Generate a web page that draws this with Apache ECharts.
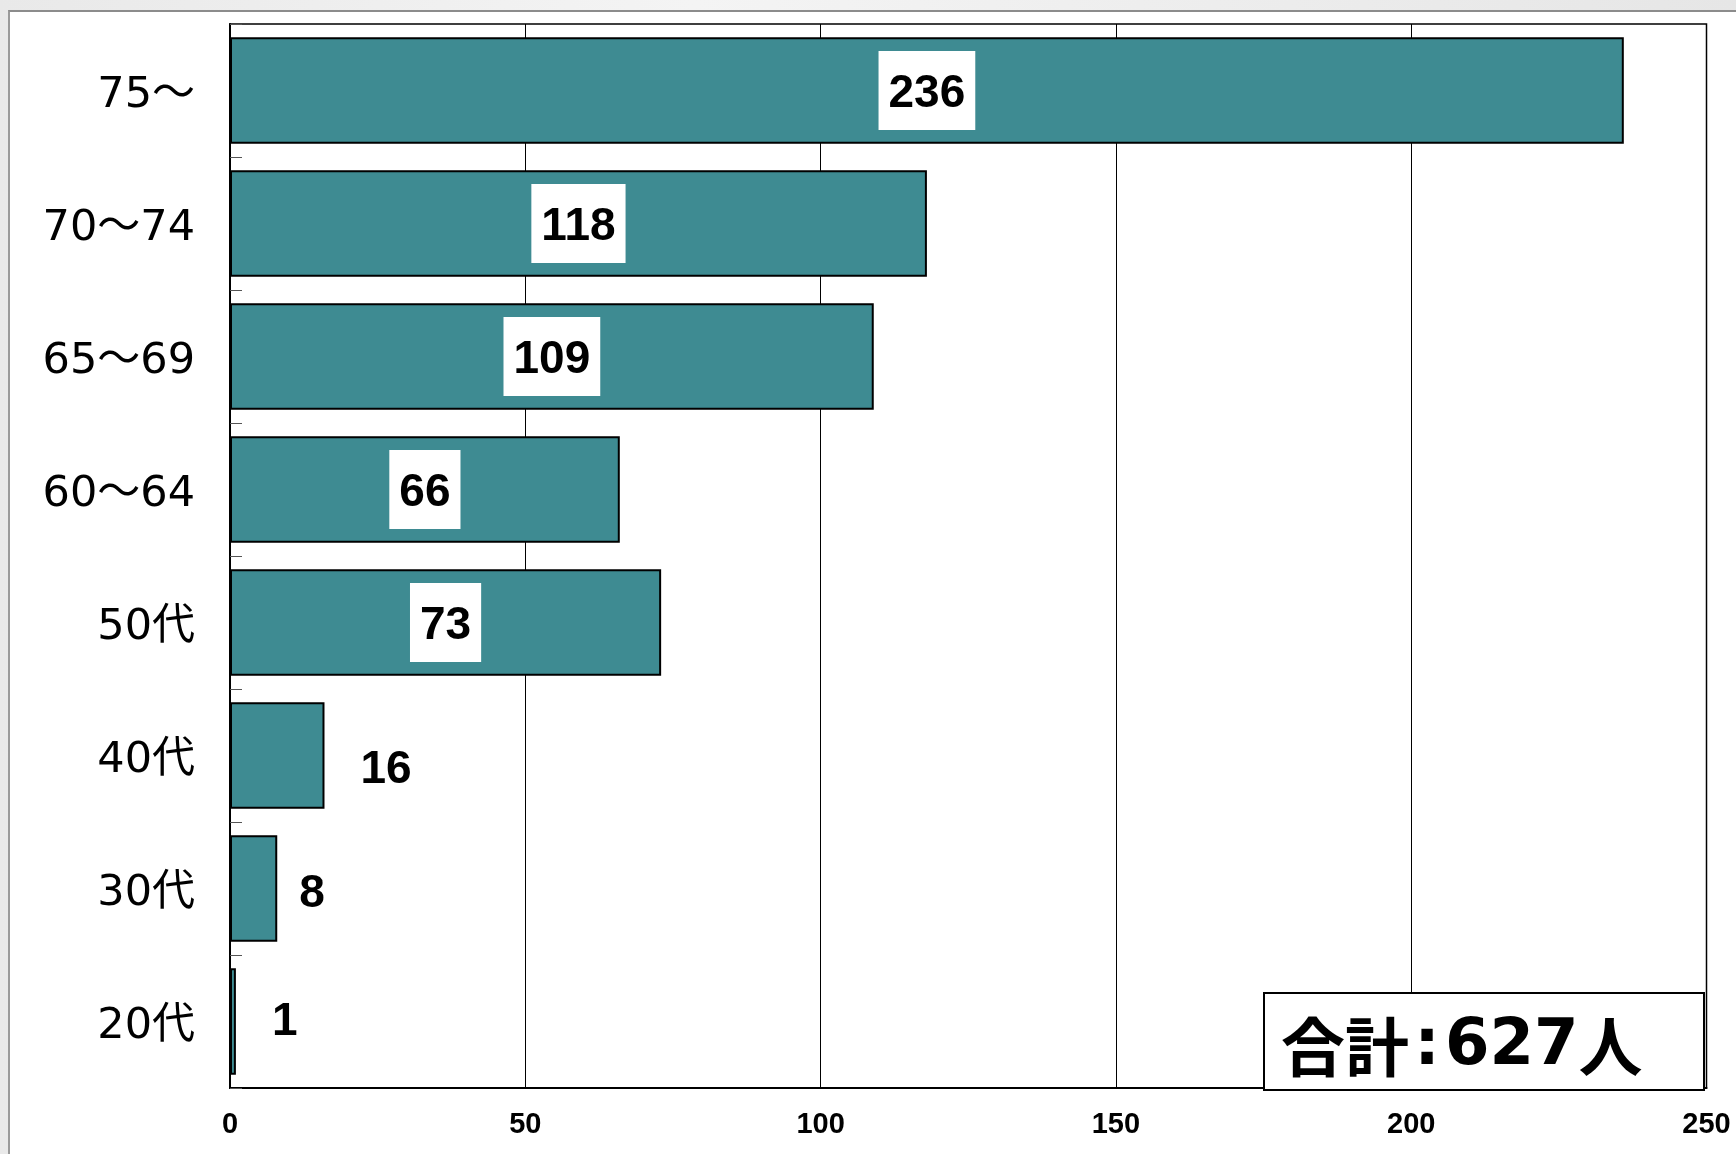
<!DOCTYPE html>
<html>
<head>
<meta charset="utf-8">
<title>年代別人数</title>
<script src="https://cdn.jsdelivr.net/npm/echarts@6/dist/echarts.min.js"></script>
<style>
    html, body {margin: 0;padding: 0;width: 1736px;height: 1154px;overflow: hidden;}
    body {background: linear-gradient(90deg, #e9e9e9, #f4f4f4 40%, #e6e6e6);}
    #main {position: absolute;left: 8px;top: 10px;width: 1728px;height: 1144px;background: #fff;
        border-top: 2px solid #8c8c8c;border-left: 2px solid #9a9a9a;}
</style>
</head>
<body>
<div id="main"></div>
<script>
// 年代
var categories = ['75～', '70～74', '65～69', '60～64', '50代', '40代', '30代', '20代'];
// 人数
var counts = [236, 118, 109, 66, 73, 16, 8, 1];
// x軸
var axisMin = 0;
var axisMax = 250;
var axisStep = 50;

// 外側ラベルの微調整 (px)
var labelNudge = {5: [8, 15], 6: [-6, 6], 7: [8, 1]};

var total = counts.reduce(function (a, b) { return a + b; }, 0);

var barColor = '#3e8b92';
var numFont = 'Liberation Sans, Arial, sans-serif';

// 大きい棒は中に白枠のラベル、小さい棒は右側
var barData = counts.map(function (v, i) {
    if (v >= 50) {
        return {
            value: v,
            label: {
                position: 'inside',
                backgroundColor: '#fff',
                padding: [17, 10, 16, 10],
                formatter: '{v|{c}}',
                rich: {
                    v: {
                        padding: [7, 0, 0, 0],
                        color: '#000',
                        fontFamily: numFont,
                        fontWeight: 'bold',
                        fontSize: 46,
                        lineHeight: 46
                    }
                }
            }
        };
    }
    return {
        value: v,
        label: {
            position: 'right',
            distance: 28,
            offset: labelNudge[i] || [0, 0]
        }
    };
});

var myChart = echarts.init(document.getElementById('main'));
myChart.setOption({
    animation: false,
    grid: {
        left: 220,
        top: 12,
        width: 1476.5,
        height: 1064,
        show: true,
        borderColor: '#000',
        borderWidth: 1.5,
        containLabel: false
    },
    xAxis: {
        type: 'value',
        min: axisMin,
        max: axisMax,
        interval: axisStep,
        axisLine: {show: true, lineStyle: {color: '#000', width: 2}},
        axisTick: {show: false},
        splitLine: {show: true, lineStyle: {color: '#000', width: 1}},
        axisLabel: {
            margin: 22,
            fontFamily: numFont,
            fontWeight: 'bold',
            fontSize: 29,
            color: '#000'
        }
    },
    yAxis: {
        type: 'category',
        inverse: true,
        data: categories,
        axisLine: {show: true, lineStyle: {color: '#000', width: 2}},
        axisTick: {show: true, inside: true, length: 12, lineStyle: {color: '#555', width: 1}},
        axisLabel: {
            margin: 35,
            formatter: function (v) { return '{a|' + v + '}'; },
            rich: {
                a: {
                    padding: [10, 0, 0, 0],
                    fontFamily: 'DejaVu Sans, Noto Sans CJK JP, sans-serif',
                    fontSize: 43,
                    color: '#000'
                }
            }
        }
    },
    series: [
        {
            type: 'bar',
            data: barData,
            barCategoryGap: '20%',
            itemStyle: {color: barColor, borderColor: '#000', borderWidth: 2},
            label: {
                show: true,
                color: '#000',
                fontFamily: numFont,
                fontWeight: 'bold',
                fontSize: 46,
                lineHeight: 46
            }
        }
    ],
    // 合計の枠
    graphic: [
        {
            type: 'rect',
            left: 1253,
            top: 980,
            shape: {width: 440, height: 97},
            style: {fill: '#fff', stroke: '#000', lineWidth: 2},
            z: 100
        },
        {
            type: 'text',
            left: 1271,
            top: 1003,
            style: {
                text: '{k|合計}{c|:}{n|' + total + '}{k|人}',
                rich: {
                    k: {font: 'bold 64px "Noto Sans CJK JP", sans-serif', fill: '#000'},
                    c: {font: 'bold 64px "DejaVu Sans", sans-serif', width: 36, align: 'center', fill: '#000'},
                    n: {font: 'bold 64px "DejaVu Sans", sans-serif', fill: '#000'}
                }
            },
            z: 101
        }
    ]
});
</script>
</body>
</html>
